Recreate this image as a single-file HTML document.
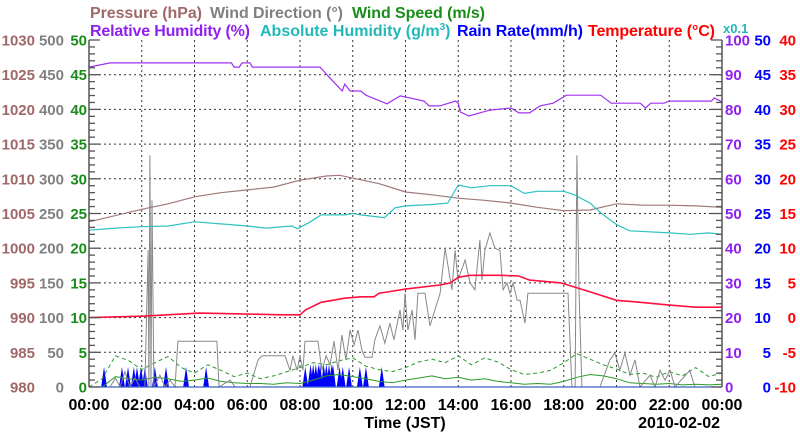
<!DOCTYPE html>
<html><head><meta charset="utf-8"><style>
html,body{margin:0;padding:0;background:#fff;width:800px;height:434px;overflow:hidden}
svg text{font-family:"Liberation Sans",Arial,sans-serif}
</style></head><body>
<svg id="chart" width="800" height="434" viewBox="0 0 800 434" xmlns="http://www.w3.org/2000/svg"></svg>
<script>
// ---- data ----
const xTickLabels = ["00:00","02:00","04:00","06:00","08:00","10:00","12:00","14:00","16:00","18:00","20:00","22:00","00:00"];
const pressTicks = [980,985,990,995,1000,1005,1010,1015,1020,1025,1030];
const wdirTicks = [0,50,100,150,200,250,300,350,400,450,500];
const wspdTicks = [0,5,10,15,20,25,30,35,40,45,50];
const rhTicks = [0,10,20,30,40,50,60,70,80,90,100];
const rainTicks = [0,5,10,15,20,25,30,35,40,45,50];
const tempTicks = [-10,-5,0,5,10,15,20,25,30,35,40];

const pressHours = [0,2,3,4,5,6,7,8,9,9.5,10,11,12,13,14,15,16,17,18,19,20,21,22,23,24];
const pressVals = [1003.8,1005.6,1006.4,1007.4,1008,1008.4,1008.8,1009.8,1010.4,1010.5,1010.1,1009.3,1008.1,1007.7,1007.2,1006.9,1006.5,1005.9,1005.4,1005.5,1006.4,1006.2,1006.2,1006.1,1005.9];

const absHours = [0,1,2,3,4,5,6,6.7,7.7,7.9,8.4,8.8,9.7,10,10.3,11.2,11.6,12,13,13.6,14,14.5,15.2,16,16.5,17,18,18.4,19,19.4,20,20.5,22,22.8,23.5,24];
const absVals = [22.6,22.9,23.1,23.2,23.8,23.5,23.2,22.9,23.2,22.8,23.8,24.8,24.8,25,24.8,24.4,25.8,26.1,26.3,26.5,29.1,28.7,29,29,27.9,28.2,28.2,27.7,26.5,25.1,23.4,22.5,22.2,22,22.2,22];

const rhHours = [0,0.8,5.4,5.5,5.7,5.8,6.1,6.2,8.76,9.14,9.6,9.7,9.9,10.3,10.5,11.3,11.8,12.7,12.9,13.3,13.9,14.0,14.07,14.4,15.2,16,16.3,16.7,17.1,17.6,18.1,19.4,19.8,20.9,21.1,21.3,21.8,22,23.6,23.7,24];
const rhVals = [92.2,93.4,93.4,92.2,92.2,93.4,93.4,92.2,92.2,89,85.3,87.3,85.3,85.3,84.1,81.6,83.9,82.4,81,81,82.4,81.8,79.3,78.1,79.8,80.4,79,79,81,81.8,84.1,84.1,81.8,81.8,80.4,81.8,81.8,82.4,82.4,83.3,82.2];

const tempHours = [0,2,4.2,6,7.3,8,8.2,8.8,9.7,10.3,10.8,11,12,13.3,13.7,14,14.45,15.6,16.3,16.7,17.9,19,20,20.9,22,23,24];
const tempVals = [0,0.2,0.65,0.5,0.4,0.4,1.1,2.2,2.8,3,3,3.5,4.1,4.7,5,5.8,6.1,6.1,6,5.4,5,3.7,2.5,2.2,1.8,1.5,1.5];

const wdirHours = [0,0.8,1.0,1.18,1.36,1.55,1.74,1.93,2.12,2.24,2.27,2.31,2.35,2.39,2.46,2.69,2.88,3.07,3.26,3.37,3.94,4.85,4.93,5.35,5.54,6.1,6.41,6.56,7.43,7.62,7.73,7.89,8.0,8.11,8.19,8.68,8.83,8.99,9.14,9.29,9.44,9.59,9.74,9.9,10.05,10.2,10.35,10.46,10.73,10.84,11.03,11.22,11.41,11.56,11.79,11.9,11.98,12.09,12.25,12.36,12.47,12.74,12.93,13.31,13.5,13.76,13.88,13.99,14.26,14.45,14.63,14.82,14.9,15.01,15.2,15.39,15.58,15.7,15.85,15.96,16.08,16.23,16.34,16.53,16.64,18.16,18.31,18.43,18.5,18.58,18.69,19.37,19.75,19.94,20.13,20.32,20.51,20.7,20.89,21.27,21.46,21.65,21.84,22.03,22.22,22.78,22.97,23.54,24];
const wdirVals = [0,0,13,0,22,0,13,0,0,197,0,334,0,269,0,17,0,10,0,66,66,66,0,10,0,0,39,45,45,24,45,24,45,24,66,66,24,45,32,66,24,75,39,82,61,82,53,43,43,68,88,63,92,68,111,82,135,82,111,68,135,135,88,135,200,140,197,154,183,150,140,212,154,197,222,200,197,140,150,135,150,125,125,92,135,135,0,0,334,140,0,0,39,49,24,49,17,39,0,17,0,24,10,24,0,24,0,0,0];

const wspdSolid = [0,0,1.5,1.2,1.0,1.4,1.2,0.8,1.0,1.3,0.8,0.6,0.5,0.5,0.4,0.6,0.5,1.0,1.6,1.8,1.5,1.2,0.8,0.6,1.0,1.3,1.6,1.2,1.4,1.0,1.2,0.8,0.6,0.4,0.5,0.4,0.8,1.4,1.8,1.6,1.2,0.6,0.5,0.4,0.5,0.3,0.4,0.3,0.4];
const wspdGust = [0,1.2,4.5,3.8,2.5,3.5,4.4,2.8,2.0,3.2,2.4,1.5,2.0,1.2,1.6,2.2,2.8,3.5,3.2,3.8,4.2,3.0,2.5,2.2,2.8,3.6,4.0,3.5,4.5,3.2,4.2,3.6,2.5,1.8,2.0,2.4,3.5,4.8,4.0,3.2,2.6,1.8,2.0,1.4,2.2,1.6,2.8,1.5,2.0];

const rainHours = [0.57,1.25,1.48,1.7,1.82,1.97,2.12,2.5,2.92,3.68,4.44,8.2,8.4,8.5,8.6,8.7,8.76,8.9,9.0,9.1,9.2,9.25,9.5,9.62,9.86,10.27,10.5,11.1];
const rainVals = [2.9,2.9,2.9,2.9,2.9,2.9,2.9,2.9,2.9,2.9,2.9,2.9,3.3,3.3,3.3,3.3,3.3,3.3,3.3,3.3,3.3,3.3,2.9,2.9,2.9,2.9,2.9,2.9];

// ---- geometry ----
const L=89,R=722,T=40,B=387;
const NS="http://www.w3.org/2000/svg";
const svg=document.getElementById('chart');
function xs(h){return L+h*(R-L)/24;}
function lin(min,max){return v=>B-(v-min)*(B-T)/(max-min);}
const yP=lin(980,1030), yD=lin(0,500), yW=lin(0,50), yH=lin(0,100), yR=lin(0,50), yT=lin(-10,40);
function el(tag,attrs,parent){const e=document.createElementNS(NS,tag);for(const k in attrs)e.setAttribute(k,attrs[k]);(parent||svg).appendChild(e);return e;}
function pathFrom(hours,vals,yf){return hours.map((h,i)=>(i?'L':'M')+xs(h).toFixed(1)+','+yf(vals[i]).toFixed(1)).join(' ');}

// grid
const grid=el('g',{});


for(let i=1;i<12;i++){const x=xs(i*2);el('line',{x1:x,y1:T,x2:x,y2:B,stroke:'#333','stroke-width':1,'stroke-dasharray':'2,3'},grid);}
for(let i=1;i<10;i++){const y=yW(i*5);el('line',{x1:L,y1:y,x2:R,y2:y,stroke:'#333','stroke-width':1,'stroke-dasharray':'2,3'},grid);}

// series
const rain=el('path',{d:(()=>{let d='';rainHours.forEach((h,i)=>{const w=0.11;d+='M'+xs(h-w)+','+B+' L'+xs(h)+','+yR(rainVals[i])+' L'+xs(h+w)+','+B+' Z ';});return d;})(),fill:'#0000ff'});


const wsG=el('path',{d:pathFrom(wspdGust.map((v,i)=>i*0.5),wspdGust,yW),fill:'none',stroke:'#2a9a2a','stroke-width':1,'stroke-dasharray':'4,3'});


const wsS=el('path',{d:pathFrom(wspdSolid.map((v,i)=>i*0.5),wspdSolid,yW),fill:'none',stroke:'#2a9a2a','stroke-width':1});


const wd=el('path',{d:pathFrom(wdirHours,wdirVals,yD),fill:'none',stroke:'#888','stroke-width':1});


const pr=el('path',{d:pathFrom(pressHours,pressVals,yP),fill:'none',stroke:'#a07878','stroke-width':1.2});


const ab=el('path',{d:pathFrom(absHours,absVals,yW),fill:'none',stroke:'#30c0c0','stroke-width':1.2});


const rh=el('path',{d:pathFrom(rhHours,rhVals,yH),fill:'none',stroke:'#a030f0','stroke-width':1.2});


const tp=el('path',{d:pathFrom(tempHours,tempVals,yT),fill:'none',stroke:'#ff1040','stroke-width':1.6});



// axes frame & ticks
el('line',{x1:L,y1:T,x2:L,y2:B,stroke:'#555','stroke-width':1.5});
el('line',{x1:R,y1:T,x2:R,y2:B,stroke:'#555','stroke-width':1.5});
el('line',{x1:L,y1:B,x2:R,y2:B,stroke:'#3a60c0','stroke-width':1.2});
for(let i=0;i<=50;i++){const y=yW(i);const len=(i%5===0)?11:6;
 el('line',{x1:L,y1:y,x2:L+len,y2:y,stroke:'#555','stroke-width':1.3});
 el('line',{x1:R-len,y1:y,x2:R,y2:y,stroke:'#555','stroke-width':1.3});}

// tick labels
function col(ticks,yf,x,color,anchor,name){
 const g=el('g',{});
 
 
 ticks.forEach(v=>{const t=el('text',{x:x,y:yf(v)+5.5,fill:color,'font-size':15,'font-weight':'bold','text-anchor':anchor},g);t.textContent=String(v);});
}
col(pressTicks,yP,35,'#a06868','end','pressure-axis-labels');
col(wdirTicks,yD,64,'#808080','end','wind-direction-axis-labels');
col(wspdTicks,yW,87,'#1a8c1a','end','wind-speed-axis-labels');
col(rhTicks,yH,725,'#9020f0','start','relative-humidity-axis-labels');
col(rainTicks,yR,771,'#0000ff','end','rain-rate-axis-labels');
col(tempTicks,yT,796,'#ff0000','end','temperature-axis-labels');

const xl=el('g',{});


xTickLabels.forEach((s,i)=>{const t=el('text',{x:xs(i*2),y:410,'font-size':16,'font-weight':'bold','text-anchor':'middle',fill:'#000'},xl);t.textContent=s;});
</script>
<svg width="800" height="434" style="position:absolute;left:0;top:0" xmlns="http://www.w3.org/2000/svg">
<g font-family="Liberation Sans, Arial, sans-serif" font-weight="bold" font-size="16">
<text x="90" y="18" fill="#a06868" textLength="112">Pressure (hPa)</text>
<text x="210" y="18" fill="#808080" textLength="133">Wind Direction (°)</text>
<text x="352" y="18" fill="#1a8c1a" textLength="133">Wind Speed (m/s)</text>
<text x="90" y="36" fill="#9020f0" textLength="160">Relative Humidity (%)</text>
<text x="260" y="36" fill="#20b8b8">Absolute Humidity (g/m<tspan dy="-6" font-size="10">3</tspan><tspan dy="6">)</tspan></text>
<text x="457" y="36" fill="#0000ff" textLength="126">Rain Rate(mm/h)</text>
<text x="588" y="36" fill="#ff0000" textLength="127">Temperature (°C)</text>
<text x="723" y="33" fill="#20b8b8" font-size="13">x0.1</text>
<text x="405" y="428" fill="#000" text-anchor="middle">Time (JST)</text>
<text x="720" y="428" fill="#000" text-anchor="end">2010-02-02</text>
</g>
</svg>
</body></html>
